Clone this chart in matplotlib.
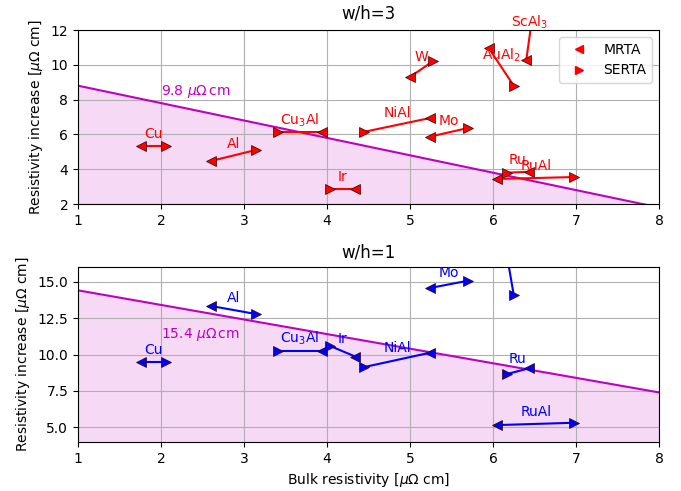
import numpy as np
import matplotlib
matplotlib.use("Agg")
import matplotlib.pyplot as plt

# bulk resistivities (uOhm cm) from the two transport approximations
materials = ['Cu', 'Al', 'Cu$_3$Al', 'Ir', 'NiAl', 'Mo', 'W',
             'AuAl$_2$', 'ScAl$_3$', 'Ru', 'RuAl']
bulk_mrta = [1.76, 2.60, 3.94, 4.34, 5.24, 5.24, 5.00, 5.95, 6.40, 6.43, 6.05]
bulk_serta = [2.06, 3.14, 3.41, 4.04, 4.45, 5.70, 5.28, 6.25, 6.49, 6.17, 6.98]

# resistivity increase for w/h=3
inc3_mrta = [5.33, 4.47, 6.15, 2.87, 6.94, 5.87, 9.30, 10.95, 10.25, 3.85, 3.44]
inc3_serta = [5.33, 5.10, 6.15, 2.87, 6.15, 6.37, 10.22, 8.80, 13.3, 3.80, 3.55]

# resistivity increase for w/h=1 (W and ScAl3 are off the chart)
nan = np.nan
inc1_mrta = [9.48, 13.33, 10.27, 9.86, 10.12, 14.56, nan, 24.0, nan, 9.05, 5.16]
inc1_serta = [9.48, 12.78, 10.27, 10.58, 9.14, 15.06, nan, 14.08, nan, 8.66, 5.32]

# total resistivity of the reference line, and where its label goes
rho_tot3 = 9.8
rho_tot1 = 15.4
label_y3 = 8.45
label_y1 = 11.35


def draw_panel(ax, inc_mrta, inc_serta, color, rho_tot, label_y, ylim, title, pad):
    xx = np.array([1, 8])
    ax.fill_between(xx, rho_tot - xx, 0, color='m', alpha=0.15, lw=0)
    ax.plot(xx, rho_tot - xx, color='m', lw=1.5)
    ax.text(2.0, label_y, r'%.1f $\mu\Omega\,$cm' % rho_tot, color='m',
            fontsize=10, ha='left', va='center')
    for name, xm, xs, ym, ys in zip(materials, bulk_mrta, bulk_serta,
                                    inc_mrta, inc_serta):
        if np.isnan(ym) or np.isnan(ys):
            continue
        ax.plot([xm, xs], [ym, ys], '-', color=color, lw=1.5)
        ax.plot(xm, ym, '<', color=color, ms=7, mec='#300000', mew=0.5)
        ax.plot(xs, ys, '>', color=color, ms=7, mec='#300000', mew=0.5)
        ax.annotate(name, ((xm + xs) / 2, (ym + ys) / 2), xytext=(0, 8.5),
                    textcoords='offset points', ha='center', va='center',
                    color=color, fontsize=10)
    ax.set_xlim(1, 8)
    ax.set_ylim(*ylim)
    ax.grid(True)
    ax.set_title(title, fontsize=12, pad=pad)
    ax.set_ylabel(r'Resistivity increase [$\mu\Omega$ cm]')


fig = plt.figure(figsize=(6.81, 4.91), dpi=100)
ax1 = fig.add_axes([0.1145, 0.5845, 0.8532, 0.3544])
ax2 = fig.add_axes([0.1145, 0.0998, 0.8532, 0.3564])

draw_panel(ax1, inc3_mrta, inc3_serta, 'r', rho_tot3, label_y3, (2, 12), 'w/h=3', 8.5)
draw_panel(ax2, inc1_mrta, inc1_serta, 'b', rho_tot1, label_y1, (4, 16), 'w/h=1', 6.5)
ax1.set_yticks([2, 4, 6, 8, 10, 12])
ax2.set_yticks([5, 7.5, 10, 12.5, 15])

# legend handles only
h1, = ax1.plot([], [], '<', color='r', ms=6, label='MRTA')
h2, = ax1.plot([], [], '>', color='r', ms=6, label='SERTA')
ax1.legend(handles=[h1, h2], loc='upper right')

ax2.set_xlabel(r'Bulk resistivity [$\mu\Omega$ cm]')

fig.savefig('out.png', dpi=100)
